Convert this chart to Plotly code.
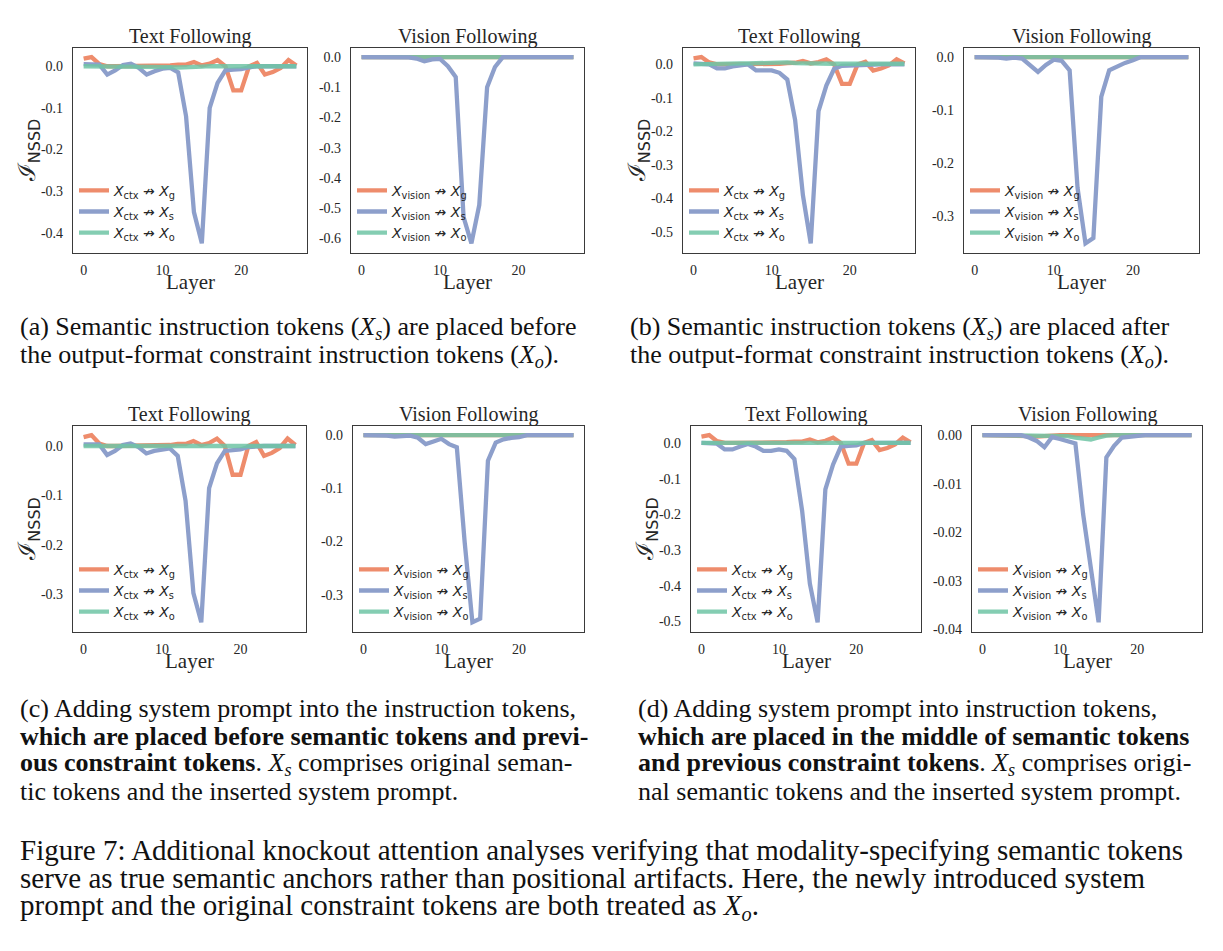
import plotly.graph_objects as go

W, H = 1223, 951

layers = list(range(28))

# ---------------- data ----------------
a_text_g = [0.018, 0.022, 0.005, 0.0, 0.0, 0.0, 0.0, 0.0, 0.0, 0.0, 0.0, 0.002, 0.004, 0.004, 0.010, 0.002, 0.006, 0.015, 0.0, -0.058, -0.058, 0.0, 0.008, -0.020, -0.014, -0.004, 0.015, 0.002]
a_text_s = [0.005, 0.005, 0.004, -0.020, -0.010, 0.003, 0.006, -0.004, -0.020, -0.012, -0.006, -0.004, -0.015, -0.120, -0.350, -0.425, -0.100, -0.040, -0.010, -0.008, -0.007, -0.003, 0.0, 0.0, 0.0, 0.0, 0.0, 0.0]
a_text_o = [0.0, 0.0, 0.0, 0.0, 0.0, 0.0, 0.0, 0.0, 0.0, 0.0, -0.001, -0.002, -0.003, -0.003, -0.002, -0.001, 0.0, 0.0, 0.0, 0.0, 0.0, 0.0, 0.0, 0.0, 0.0, 0.0, 0.0, 0.0]
a_vis_g = [0.0, 0.0, 0.0, 0.0, 0.0, 0.0, 0.0, 0.0, 0.0, 0.0, 0.0, 0.0, 0.0, 0.0, 0.0, 0.0, 0.0, 0.0, 0.0, 0.0, 0.0, 0.0, 0.0, 0.0, 0.0, 0.0, 0.0, 0.0]
a_vis_s = [0.0, 0.0, 0.0, 0.0, -0.001, -0.001, -0.001, -0.005, -0.014, -0.008, -0.006, -0.030, -0.066, -0.530, -0.617, -0.490, -0.100, -0.033, 0.0, 0.0, 0.0, 0.0, 0.0, 0.0, 0.0, 0.0, 0.0, 0.0]
a_vis_o = [0.0, 0.0, 0.0, 0.0, 0.0, 0.0, 0.0, 0.0, 0.0, 0.0, 0.0, 0.0, 0.0, 0.0, 0.0, 0.0, 0.0, 0.0, 0.0, 0.0, 0.0, 0.0, 0.0, 0.0, 0.0, 0.0, 0.0, 0.0]

b_text_g = [0.018, 0.022, 0.006, 0.0, 0.0, 0.0, 0.0, 0.0, 0.0, 0.0, 0.0, 0.002, 0.004, 0.005, 0.010, 0.003, 0.007, 0.015, 0.0, -0.058, -0.058, 0.0, 0.008, -0.018, -0.012, -0.003, 0.015, 0.003]
b_text_s = [0.003, 0.003, 0.0, -0.012, -0.012, -0.006, -0.002, 0.0, -0.018, -0.018, -0.018, -0.025, -0.045, -0.165, -0.390, -0.534, -0.139, -0.063, -0.013, -0.004, -0.003, 0.0, 0.0, 0.0, 0.0, 0.0, 0.0, 0.0]
b_text_o = [0.0, 0.001, 0.002, 0.002, 0.002, 0.003, 0.003, 0.003, 0.004, 0.005, 0.006, 0.007, 0.006, 0.004, 0.003, 0.002, 0.002, 0.002, 0.002, 0.002, 0.002, 0.002, 0.002, 0.002, 0.002, 0.002, 0.002, 0.002]
b_vis_g = [0.0, 0.0, 0.0, 0.0, 0.0, 0.0, 0.0, 0.0, 0.0, 0.0, 0.0, 0.0, 0.0, 0.0, 0.0, 0.0, 0.0, 0.0, 0.0, 0.0, 0.0, 0.0, 0.0, 0.0, 0.0, 0.0, 0.0, 0.0]
b_vis_s = [0.0, 0.0, 0.0, -0.001, -0.003, -0.001, -0.003, -0.015, -0.028, -0.015, -0.005, -0.007, -0.025, -0.247, -0.352, -0.342, -0.075, -0.025, -0.017, -0.011, -0.006, 0.0, 0.0, 0.0, 0.0, 0.0, 0.0, 0.0]
b_vis_o = [0.0, 0.0, 0.0, 0.0, 0.0, 0.0, 0.0, 0.0, 0.0, 0.0, 0.0, 0.0, 0.0, 0.0, 0.0, 0.0, 0.0, 0.0, 0.0, 0.0, 0.0, 0.0, 0.0, 0.0, 0.0, 0.0, 0.0, 0.0]

c_text_g = [0.018, 0.022, 0.005, 0.0, 0.0, 0.0, 0.0, 0.0, 0.0, 0.0, 0.0, 0.002, 0.004, 0.004, 0.010, 0.002, 0.006, 0.015, 0.0, -0.058, -0.058, 0.0, 0.008, -0.020, -0.014, -0.004, 0.015, 0.002]
c_text_s = [0.003, 0.004, 0.003, -0.018, -0.010, 0.002, 0.005, -0.002, -0.015, -0.010, -0.007, -0.005, -0.020, -0.111, -0.297, -0.356, -0.085, -0.035, -0.010, -0.008, -0.007, -0.002, 0.0, 0.0, 0.0, 0.0, 0.0, 0.0]
c_text_o = [0.0, 0.0, 0.0, 0.0, 0.0, 0.0, 0.0, 0.0, 0.0, 0.0, -0.001, -0.001, -0.002, -0.002, -0.002, -0.001, 0.0, 0.0, 0.0, 0.0, 0.0, 0.0, 0.0, 0.0, 0.0, 0.0, 0.0, 0.0]
c_vis_g = [0.0, 0.0, 0.0, 0.0, 0.0, 0.0, 0.0, 0.0, 0.0, 0.0, 0.0, 0.0, 0.0, 0.0, 0.0, 0.0, 0.0, 0.0, 0.0, 0.0, 0.0, 0.0, 0.0, 0.0, 0.0, 0.0, 0.0, 0.0]
c_vis_s = [0.0, 0.0, 0.0, -0.001, -0.003, -0.002, -0.001, -0.005, -0.017, -0.012, -0.007, -0.017, -0.023, -0.200, -0.352, -0.345, -0.048, -0.014, -0.008, -0.005, -0.004, 0.0, 0.0, 0.0, 0.0, 0.0, 0.0, 0.0]
c_vis_o = [0.0, 0.0, 0.0, 0.0, 0.0, 0.0, 0.0, 0.0, 0.0, 0.0, 0.0, 0.0, 0.0, 0.0, 0.0, 0.0, 0.0, 0.0, 0.0, 0.0, 0.0, 0.0, 0.0, 0.0, 0.0, 0.0, 0.0, 0.0]

d_text_g = [0.018, 0.022, 0.005, 0.0, 0.0, 0.0, 0.0, 0.0, 0.0, 0.0, 0.0, 0.002, 0.004, 0.004, 0.010, 0.002, 0.006, 0.015, 0.0, -0.058, -0.058, 0.0, 0.008, -0.020, -0.014, -0.004, 0.015, 0.002]
d_text_s = [0.0, 0.0, -0.002, -0.018, -0.018, -0.010, -0.003, -0.010, -0.022, -0.022, -0.018, -0.022, -0.045, -0.190, -0.394, -0.502, -0.130, -0.060, -0.010, -0.008, -0.007, 0.0, 0.0, 0.0, 0.0, 0.0, 0.0, 0.0]
d_text_o = [0.0, 0.0, 0.0, 0.0, 0.0, 0.0, 0.0, 0.0, 0.0, 0.0, 0.0, 0.0, -0.001, -0.001, -0.001, -0.001, 0.0, 0.0, 0.0, 0.0, 0.0, 0.0, 0.0, 0.0, 0.0, 0.0, 0.0, 0.0]
d_vis_g = [0.0, 0.0, 0.0, 0.0, 0.0, 0.0, -0.0002, -0.0003, -0.0003, -0.0001, 0.0, 0.0, 0.0, 0.0, 0.0, 0.0, 0.0, 0.0, 0.0, 0.0, 0.0, 0.0, 0.0, 0.0, 0.0, 0.0, 0.0, 0.0]
d_vis_s = [0.0, 0.0, 0.0, 0.0, 0.0, 0.0, -0.0005, -0.0012, -0.0025, -0.0004, -0.0008, -0.0013, -0.0017, -0.0163, -0.0270, -0.0386, -0.0046, -0.0022, -0.0005, -0.0003, -0.0001, 0.0, 0.0, 0.0, 0.0, 0.0, 0.0, 0.0]
d_vis_o = [0.0, 0.0, 0.0, 0.0, 0.0, 0.0, 0.0, 0.0, 0.0, 0.0, 0.0, -0.0002, -0.0005, -0.0008, -0.0009, -0.0005, -0.0001, 0.0, 0.0, 0.0, 0.0, 0.0, 0.0, 0.0, 0.0, 0.0, 0.0, 0.0]

x_ticks = [0, 10, 20]
y_ticks_a_text = [0.0, -0.1, -0.2, -0.3, -0.4]
y_ticks_a_vis = [0.0, -0.1, -0.2, -0.3, -0.4, -0.5, -0.6]
y_ticks_b_text = [0.0, -0.1, -0.2, -0.3, -0.4, -0.5]
y_ticks_b_vis = [0.0, -0.1, -0.2, -0.3]
y_ticks_c_text = [0.0, -0.1, -0.2, -0.3]
y_ticks_c_vis = [0.0, -0.1, -0.2, -0.3]
y_ticks_d_text = [0.0, -0.1, -0.2, -0.3, -0.4, -0.5]
y_ticks_d_vis = [0.0, -0.01, -0.02, -0.03, -0.04]

panel_titles = ["Text Following", "Vision Following"]
x_title = "Layer"
y_title = "ℐ<sub><span style='font-family:DejaVu Sans;font-size:16px'>NSSD</span></sub>"

captions = {
    "a": ["(a) Semantic instruction tokens (<i>X<sub>s</sub></i>) are placed before",
          "the output-format constraint instruction tokens (<i>X<sub>o</sub></i>)."],
    "b": ["(b) Semantic instruction tokens (<i>X<sub>s</sub></i>) are placed after",
          "the output-format constraint instruction tokens (<i>X<sub>o</sub></i>)."],
    "c": ["(c) Adding system prompt into the instruction tokens,",
          "<b>which are placed before semantic tokens and previ-</b>",
          "<b>ous constraint tokens</b>. <i>X<sub>s</sub></i> comprises original seman-",
          "tic tokens and the inserted system prompt."],
    "d": ["(d) Adding system prompt into instruction tokens,",
          "<b>which are placed in the middle of semantic tokens</b>",
          "<b>and previous constraint tokens</b>. <i>X<sub>s</sub></i> comprises origi-",
          "nal semantic tokens and the inserted system prompt."],
}
fig_caption = [
    "Figure 7: Additional knockout attention analyses verifying that modality-specifying semantic tokens",
    "serve as true semantic anchors rather than positional artifacts. Here, the newly introduced system",
    "prompt and the original constraint tokens are both treated as <i>X<sub>o</sub></i>.",
]

COL_G = "rgb(238,140,108)"
COL_S = "rgb(141,159,203)"
COL_O = "rgba(110,196,165,0.85)"
SERIF = "Liberation Serif"
SANS = "DejaVu Sans"
INK = "#262626"

# panel geometry (pixel boxes: left, right, top, bottom)
panels = [
    dict(kind="text", box=(73, 307, 48, 254), data=(a_text_g, a_text_s, a_text_o), yt=y_ticks_a_text, fmt="{:.1f}"),
    dict(kind="vis", box=(351, 584, 48, 254), data=(a_vis_g, a_vis_s, a_vis_o), yt=y_ticks_a_vis, fmt="{:.1f}"),
    dict(kind="text", box=(683, 915, 48, 254), data=(b_text_g, b_text_s, b_text_o), yt=y_ticks_b_text, fmt="{:.1f}"),
    dict(kind="vis", box=(964, 1199, 48, 254), data=(b_vis_g, b_vis_s, b_vis_o), yt=y_ticks_b_vis, fmt="{:.1f}"),
    dict(kind="text", box=(73, 306, 428, 635), data=(c_text_g, c_text_s, c_text_o), yt=y_ticks_c_text, fmt="{:.1f}"),
    dict(kind="vis", box=(353, 584, 428, 635), data=(c_vis_g, c_vis_s, c_vis_o), yt=y_ticks_c_vis, fmt="{:.1f}"),
    dict(kind="text", box=(691, 921, 428, 635), data=(d_text_g, d_text_s, d_text_o), yt=y_ticks_d_text, fmt="{:.1f}"),
    dict(kind="vis", box=(972, 1202, 428, 635), data=(d_vis_g, d_vis_s, d_vis_o), yt=y_ticks_d_vis, fmt="{:.2f}"),
]


def px(x):
    return x / W


def py(y):
    return 1 - y / H


fig = go.Figure()
annotations = []
layout = {}

for i, p in enumerate(panels):
    n = i + 1
    sfx = "" if n == 1 else str(n)
    l, r, t, b = p["box"]
    g, s, o = p["data"]
    src = "ctx" if p["kind"] == "text" else "vision"
    names = [
        f"<i>X</i><sub>{src}</sub> ↛ <i>X</i><sub>g</sub>",
        f"<i>X</i><sub>{src}</sub> ↛ <i>X</i><sub>s</sub>",
        f"<i>X</i><sub>{src}</sub> ↛ <i>X</i><sub>o</sub>",
    ]
    series = [(g, COL_G, names[0], 1), (s, COL_S, names[1], 2), (o, COL_O, names[2], 3)]
    order = [series[0], series[2], series[1]] if p["kind"] == "vis" else series
    legname = "legend" if n == 1 else f"legend{n}"
    for vals, col, nm, rank in order:
        fig.add_trace(go.Scatter(
            x=layers, y=vals, mode="lines", name=nm,
            line=dict(color=col, width=4.3),
            xaxis="x" + sfx, yaxis="y" + sfx,
            legend=legname, legendrank=rank, showlegend=True,
        ))
    allv = g + s + o
    vmin, vmax = min(allv), max(allv)
    pad = 0.05 * (vmax - vmin)
    layout["xaxis" + sfx] = dict(
        domain=[px(l), px(r)], anchor="y" + sfx, range=[-1.35, 28.35],
        tickvals=x_ticks, ticktext=[str(v) for v in x_ticks], ticks="",
        showgrid=False, zeroline=False, showline=True, mirror=True,
        linecolor="#3a3a3a", linewidth=1.3,
        tickfont=dict(family=SERIF, size=14, color=INK), ticklabelstandoff=4,
    )
    layout["yaxis" + sfx] = dict(
        domain=[py(b), py(t)], anchor="x" + sfx, range=[vmin - pad, vmax + pad],
        tickvals=p["yt"], ticktext=[("-" if v < 0 else "") + p["fmt"].format(abs(v)) for v in p["yt"]],
        ticks="", showgrid=False, zeroline=False, showline=True, mirror=True,
        linecolor="#3a3a3a", linewidth=1.3,
        tickfont=dict(family=SERIF, size=14, color=INK), ticklabelstandoff=6,
    )
    layout[legname] = dict(
        x=px(l + 1), y=py(b - 4), xanchor="left", yanchor="bottom",
        bgcolor="rgba(0,0,0,0)", borderwidth=0,
        font=dict(family=SANS, size=14, color=INK),
        itemwidth=30, tracegroupgap=0, traceorder="normal",
    )
    annotations.append(dict(
        text=panel_titles[0] if p["kind"] == "text" else panel_titles[1],
        x=px((l + r) / 2), y=py(t - 11), xref="paper", yref="paper",
        xanchor="center", yanchor="middle", showarrow=False,
        font=dict(family=SERIF, size=20, color=INK),
    ))
    annotations.append(dict(
        text=x_title, x=px((l + r) / 2), y=py(b + 29), xref="paper", yref="paper",
        xanchor="center", yanchor="middle", showarrow=False,
        font=dict(family=SERIF, size=21, color=INK),
    ))
    if p["kind"] == "text":
        annotations.append(dict(
            text=y_title, x=px(l - 44), y=py((t + b) / 2), xref="paper", yref="paper",
            xanchor="center", yanchor="middle", showarrow=False, textangle=-90,
            font=dict(family=SERIF, size=24, color=INK),
        ))

cap_pos = {"a": (18, 330), "b": (628, 330), "c": (18, 712), "d": (636, 712)}
for k, lines in captions.items():
    x0, y0 = cap_pos[k]
    for j, ln in enumerate(lines):
        annotations.append(dict(
            text=ln, x=px(x0), y=py(y0 + 28 * j), xref="paper", yref="paper",
            xanchor="left", yanchor="middle", showarrow=False,
            font=dict(family=SERIF, size=26, color="#111111"),
        ))
for j, ln in enumerate(fig_caption):
    annotations.append(dict(
        text=ln, x=px(18), y=py(854 + 29 * j), xref="paper", yref="paper",
        xanchor="left", yanchor="middle", showarrow=False,
        font=dict(family=SERIF, size=29, color="#111111"),
    ))

fig.update_layout(
    width=W, height=H, margin=dict(l=0, r=0, t=0, b=0),
    paper_bgcolor="white", plot_bgcolor="white",
    annotations=annotations, **layout,
)

fig.write_html("out.html")
